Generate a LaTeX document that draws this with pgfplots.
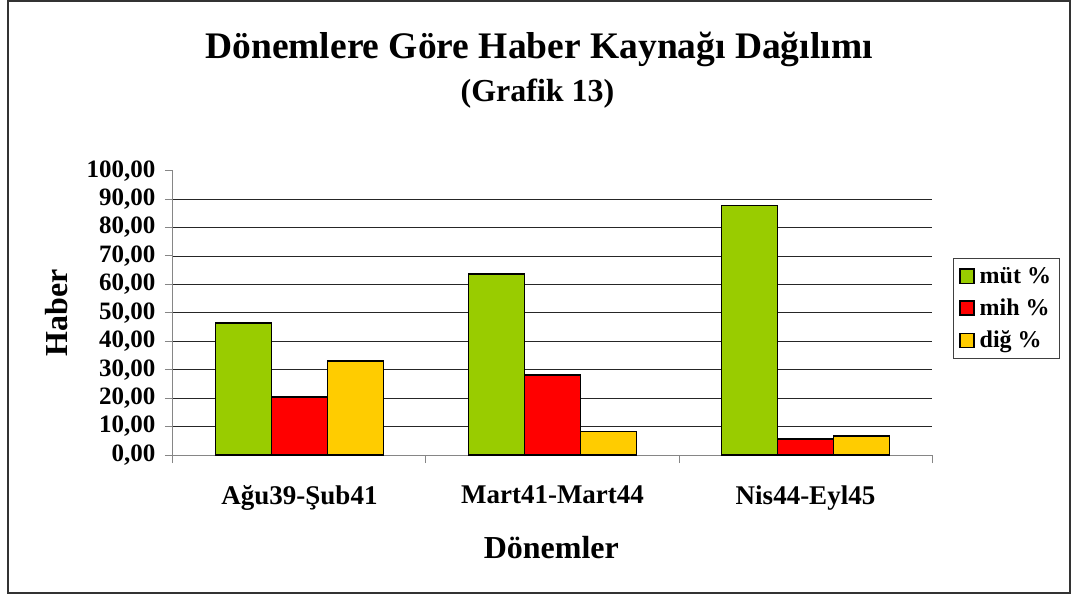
\documentclass[border=0pt]{standalone}
\usepackage{fontspec}
\setmainfont{Liberation Serif}
\usepackage{pgfplots}
\pgfplotsset{compat=1.18}
\definecolor{mutGreen}{RGB}{153,204,0}
\definecolor{mihRed}{RGB}{255,0,0}
\definecolor{digYellow}{RGB}{255,204,0}
\definecolor{axisGray}{RGB}{134,134,134}

\pgfplotsset{
  sqlegend/.style={legend image code/.code={
    \draw[##1, line width=1.3bp] (0bp,-7bp) rectangle (14bp,7bp);}},
}

\begin{document}
\begin{tikzpicture}
\useasboundingbox (-173bp,-141bp) rectangle (900bp,455bp);
\begin{axis}[
  scale only axis,
  width=759bp, height=284.3bp,
  ybar=0pt, bar width=56bp,
  xmin=-0.5, xmax=2.5, ymin=0, ymax=100,
  enlargelimits=false,
  axis x line*=bottom, axis y line*=left,
  axis line style={draw=axisGray, line width=1bp, -},
  tick align=outside,
  major tick length=8bp,
  tick style={draw=axisGray, line width=1bp},
  xtick={-0.5,0.5,1.5,2.5},
  xticklabels={},
  extra x ticks={0,1,2},
  extra x tick labels={Ağu39-Şub41, Mart41-Mart44, Nis44-Eyl45},
  extra x tick style={major tick length=0pt, grid=none},
  xticklabel style={font=\bfseries\fontsize{27bp}{31bp}\selectfont, yshift=-27bp},
  ytick={0,10,...,100},
  extra y ticks={10,20,...,90},
  extra y tick labels={},
  extra y tick style={major tick length=0pt, grid=major},
  grid style={draw=black!85, line width=0.9bp},
  yticklabel style={font=\bfseries\fontsize{25bp}{28bp}\selectfont, xshift=-6bp},
  /pgf/number format/.cd, fixed, fixed zerofill, precision=2, use comma, 1000 sep={}, assume math mode=true,
  /pgfplots/.cd,
  xlabel={Dönemler},
  xlabel style={font=\bfseries\fontsize{32bp}{36bp}\selectfont, at={(axis description cs:0.4985,-0.325)}, anchor=center},
  ylabel={Haber},
  ylabel style={font=\bfseries\fontsize{32bp}{36bp}\selectfont, at={(axis description cs:-0.154,0.5)}, anchor=center},
  legend style={at={(axis description cs:1.0277,0.693)}, anchor=north west,
    draw=black!75, line width=0.8bp, font=\bfseries\fontsize{24bp}{27bp}\selectfont,
    inner xsep=6bp, inner ysep=7bp, row sep=10bp, cells={anchor=west},
    /tikz/every odd column/.append style={column sep=3bp}},
]
\addplot[fill=mutGreen, draw=black, line width=1.6bp, sqlegend]
  coordinates {(0,46.5) (1,63.7) (2,87.8)};
\addlegendentry{müt \%}
\addplot[fill=mihRed, draw=black, line width=1.6bp, sqlegend]
  coordinates {(0,20.5) (1,28.1) (2,5.6)};
\addlegendentry{mih \%}
\addplot[fill=digYellow, draw=black, line width=1.6bp, sqlegend]
  coordinates {(0,33.0) (1,8.2) (2,6.6)};
\addlegendentry{diğ \%}
\end{axis}
\draw[black!80, line width=1.3bp] (-165bp,-138bp) rectangle (897bp,454bp);
\node[anchor=base, font=\bfseries\fontsize{37.5bp}{42bp}\selectfont] at (366bp,396bp) {Dönemlere Göre Haber Kaynağı Dağılımı};
\node[anchor=base, font=\bfseries\fontsize{32bp}{36bp}\selectfont] at (364.5bp,353bp) {(Grafik 13)};
\end{tikzpicture}
\end{document}
